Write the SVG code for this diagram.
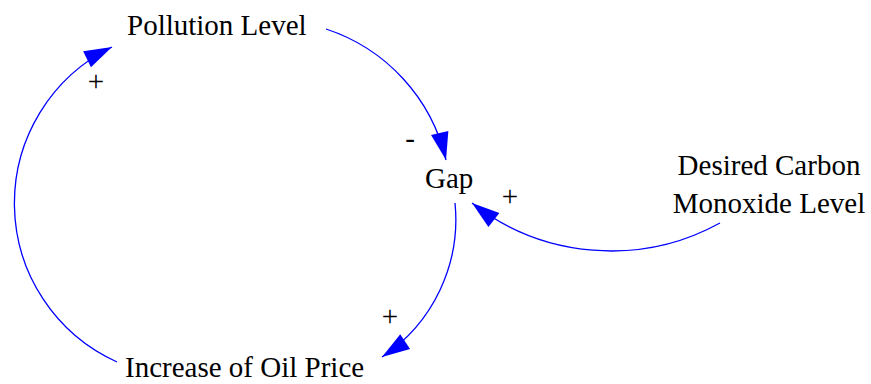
<svg xmlns="http://www.w3.org/2000/svg" width="871" height="384" viewBox="0 0 871 384" font-family="'Liberation Serif', 'DejaVu Serif', serif">
<style>
text{font-family:'Liberation Serif','DejaVu Serif',serif;font-size:29px;fill:#000}
.lnk{fill:none;stroke:#0000ff;stroke-width:1.3}
</style>
<defs>
<marker id="ah" markerUnits="userSpaceOnUse" markerWidth="30" markerHeight="20" viewBox="0 -9 26 18" refX="25" refY="0" orient="auto">
<path d="M0,-8 L25,0 L0,8 z" fill="#0000ff"/>
</marker>
</defs>
<g id="connectors">
<path class="lnk" d="M326,29 A181,181 0 0 1 446,160" marker-end="url(#ah)"/>
<path class="lnk" d="M455,203 A165,165 0 0 1 382,357" marker-end="url(#ah)"/>
<path class="lnk" d="M117,362 A174,174 0 0 1 112,47" marker-end="url(#ah)"/>
<path class="lnk" d="M720,223 A226,226 0 0 1 472,203" marker-end="url(#ah)"/>
<text x="410" y="148" text-anchor="middle">-</text>
<text x="390" y="326" text-anchor="middle">+</text>
<text x="96" y="91" text-anchor="middle">+</text>
<text x="510" y="206" text-anchor="middle">+</text>
</g>
<g id="pollution"><text x="127" y="35">Pollution Level</text></g>
<g id="gap"><text x="425" y="188">Gap</text></g>
<g id="oilprice"><text x="125" y="377">Increase of Oil Price</text></g>
<g id="desired"><text x="769" y="175" text-anchor="middle">Desired Carbon</text><text x="769" y="213" text-anchor="middle">Monoxide Level</text></g>
</svg>
